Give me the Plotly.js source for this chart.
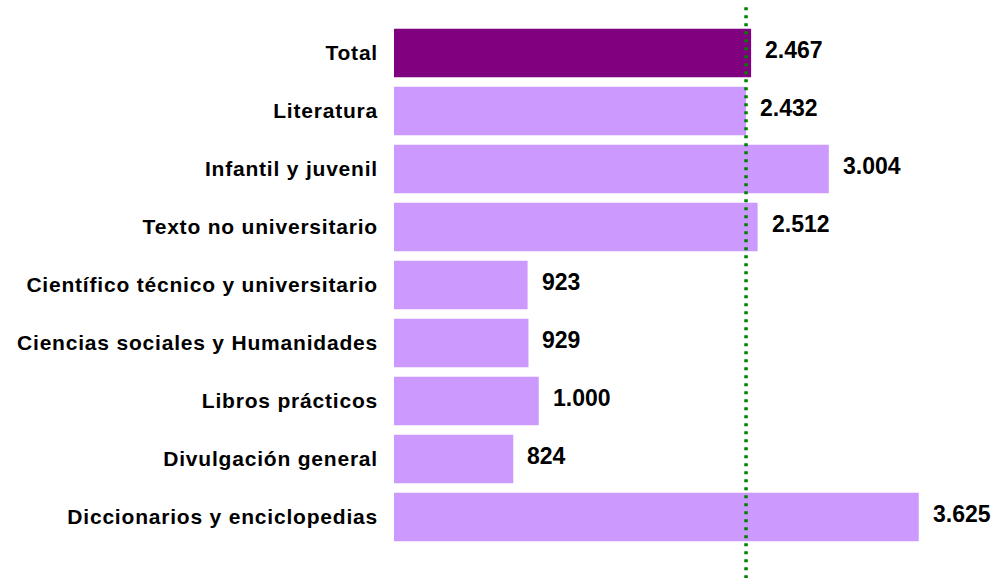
<!DOCTYPE html>
<html>
<head>
<meta charset="utf-8">
<script src="https://cdn.plot.ly/plotly-3.0.1.min.js"></script>
<style>
  html, body { margin: 0; padding: 0; background: #fff; }
  #chart { width: 998px; height: 578px; }
  /* the source labels are set quite loosely */
  #chart .ytick text { letter-spacing: 0.8px; }
</style>
</head>
<body>
<div id="chart"></div>
<script>
var categories = [
    'Total',
    'Literatura',
    'Infantil y juvenil',
    'Texto no universitario',
    'Científico técnico y universitario',
    'Ciencias sociales y Humanidades',
    'Libros prácticos',
    'Divulgación general',
    'Diccionarios y enciclopedias'
];
var values = [2467, 2432, 3004, 2512, 923, 929, 1000, 824, 3625];
var valueLabels = ['2.467', '2.432', '3.004', '2.512', '923', '929', '1.000', '824', '3.625'];
var referenceValue = 2432;

var barColors = categories.map(function (c, i) { return i === 0 ? '#800080' : '#CC99FF'; });

var trace = {
    type: 'bar',
    orientation: 'h',
    x: values,
    y: categories,
    marker: { color: barColors, line: { width: 0 } },
    hoverinfo: 'none'
};

var annotations = values.map(function (v, i) {
    return {
        x: v,
        y: categories[i],
        xref: 'x',
        yref: 'y',
        text: valueLabels[i],
        showarrow: false,
        xanchor: 'left',
        yanchor: 'middle',
        xshift: 12,
        yshift: 3,
        font: { family: 'Liberation Sans, Arial, sans-serif', size: 23, color: '#000', weight: 'bold' }
    };
});

var layout = {
    width: 998,
    height: 578,
    margin: { l: 394, r: 25, t: 24, b: 32 },
    paper_bgcolor: '#fff',
    plot_bgcolor: '#fff',
    showlegend: false,
    bargap: 0.16,
    font: { family: 'Liberation Sans, Arial, sans-serif', color: '#000' },
    xaxis: {
        range: [0, 4000],
        visible: false,
        showgrid: false,
        zeroline: false,
        fixedrange: true
    },
    yaxis: {
        autorange: 'reversed',
        showgrid: false,
        zeroline: false,
        showline: false,
        ticks: '',
        ticklabelstandoff: 15,
        tickfont: { family: 'Liberation Sans, Arial, sans-serif', size: 21, color: '#000', weight: 'bold' },
        fixedrange: true
    },
    shapes: [{
        type: 'line',
        xref: 'x',
        yref: 'paper',
        x0: referenceValue,
        x1: referenceValue,
        y0: -0.062,
        y1: 1.036,
        layer: 'above',
        line: { color: '#008000', width: 3.5, dash: '3px,5px' }
    }],
    annotations: annotations
};

Plotly.newPlot('chart', [trace], layout, { displayModeBar: false, staticPlot: true });
</script>
</body>
</html>
